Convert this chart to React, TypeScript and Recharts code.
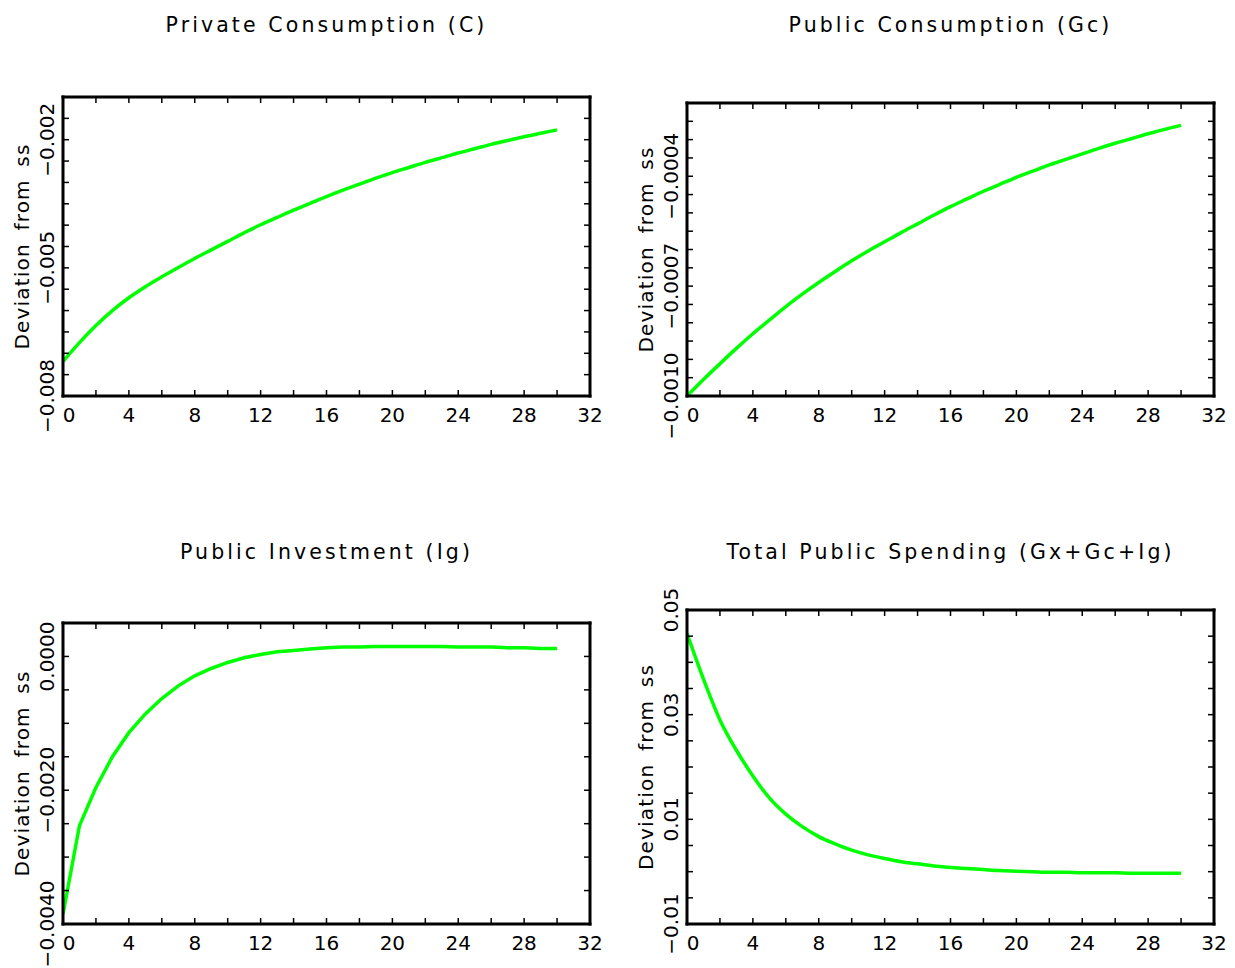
import { Line, LineChart, XAxis, YAxis } from "recharts";

// impulse responses, periods 0..30
const periods = [0, 1, 2, 3, 4, 5, 6, 7, 8, 9, 10, 11, 12, 13, 14, 15, 16, 17, 18, 19, 20, 21, 22, 23, 24, 25, 26, 27, 28, 29, 30];

const privateC = [
  -0.00719, -0.00675, -0.00635, -0.006, -0.0057, -0.00544, -0.00521, -0.00499, -0.00478, -0.00458,
  -0.00438, -0.00418, -0.00399, -0.00382, -0.00365, -0.00349, -0.00333, -0.00318, -0.00304, -0.0029,
  -0.00277, -0.00265, -0.00253, -0.00242, -0.00231, -0.00221, -0.00211, -0.00202, -0.00193, -0.00185, -0.00177,
];

const publicGc = [
  -0.001, -0.000955, -0.000912, -0.00087, -0.00083, -0.000793, -0.000756, -0.000722, -0.00069, -0.00066,
  -0.000631, -0.000604, -0.000579, -0.000554, -0.00053, -0.000506, -0.000483, -0.000462, -0.000441, -0.000422,
  -0.000403, -0.000386, -0.000369, -0.000354, -0.000339, -0.000324, -0.00031, -0.000297, -0.000284, -0.000272, -0.000261,
];

const publicIg = [
  -0.00385, -0.00253, -0.00196, -0.0015, -0.00114, -0.00086, -0.00063, -0.00044, -0.00029, -0.00018,
  -0.00009, -0.00002, 0.00003, 0.00007, 0.00009, 0.00011, 0.00013, 0.00014, 0.00014, 0.00015,
  0.00015, 0.00015, 0.00015, 0.00015, 0.00014, 0.00014, 0.00014, 0.00013, 0.00013, 0.00012, 0.00012,
];

const totalG = [
  0.0455, 0.0368, 0.029, 0.0232, 0.0183, 0.0141, 0.011, 0.0086, 0.0067, 0.0053,
  0.0041, 0.0032, 0.0025, 0.0019, 0.0015, 0.0011, 0.0008, 0.0006, 0.0004, 0.0002,
  0.0001, 0.0, -0.0001, -0.0001, -0.0002, -0.0002, -0.0002, -0.0003, -0.0003, -0.0003, -0.0003,
];

const xTicks = [0, 2, 4, 6, 8, 10, 12, 14, 16, 18, 20, 22, 24, 26, 28, 30, 32];
const xLabels = [0, 4, 8, 12, 16, 20, 24, 28, 32];

const cTicks = [-0.008, -0.0075, -0.007, -0.0065, -0.006, -0.0055, -0.005, -0.0045, -0.004, -0.0035, -0.003, -0.0025, -0.002, -0.0015, -0.001];
const cLabels = [-0.008, -0.005, -0.002];

const gcTicks = [-0.001, -0.00095, -0.0009, -0.00085, -0.0008, -0.00075, -0.0007, -0.00065, -0.0006, -0.00055, -0.0005, -0.00045, -0.0004, -0.00035, -0.0003, -0.00025, -0.0002];
const gcLabels = [-0.001, -0.0007, -0.0004];

const igTicks = [-0.004, -0.0035, -0.003, -0.0025, -0.002, -0.0015, -0.001, -0.0005, 0, 0.0005];
const igLabels = [-0.004, -0.002, 0];

const gTicks = [-0.01, -0.005, 0, 0.005, 0.01, 0.015, 0.02, 0.025, 0.03, 0.035, 0.04, 0.045, 0.05];
const gLabels = [-0.01, 0.01, 0.03, 0.05];

const FONT = '"DejaVu Sans", sans-serif';
const PLOT_W = 527;
const PAD_L = 70;
const PAD_T = 40;
const PAD_R = 12;
const PAD_B = 45;
const TICK_LEN = 6;
const FRAME = { stroke: "#000", strokeWidth: 3, strokeLinecap: "square" as const };

const isIn = (list: number[], v: number) => list.some((m) => Math.abs(m - v) < 1e-9);

function fmt(v: number, digits: number) {
  const s = Math.abs(v).toFixed(digits);
  return v < -1e-12 ? "\u2212" + s : s;
}

function BottomTick(props: any) {
  const { x, y, payload } = props;
  const v = payload.value;
  return (
    <g>
      <line x1={x} y1={y} x2={x} y2={y - TICK_LEN} stroke="#000" strokeWidth={1.5} />
      {isIn(xLabels, v) && (
        <text x={x + (v === 0 ? 6 : 0)} y={y + 19} dy="0.36em" textAnchor="middle" fontSize={20} fontFamily={FONT} fill="#000">
          {v}
        </text>
      )}
    </g>
  );
}

function TopTick(props: any) {
  const { x, y } = props;
  return <line x1={x} y1={y} x2={x} y2={y + TICK_LEN} stroke="#000" strokeWidth={1.5} />;
}

function RightTick(props: any) {
  const { x, y } = props;
  return <line x1={x} y1={y} x2={x - TICK_LEN} y2={y} stroke="#000" strokeWidth={1.5} />;
}

function LeftTick(props: any) {
  const { x, y, payload, labels, digits } = props;
  const v = payload.value;
  const lx = x - 16;
  return (
    <g>
      <line x1={x} y1={y} x2={x + TICK_LEN} y2={y} stroke="#000" strokeWidth={1.5} />
      {isIn(labels, v) && (
        <text
          x={lx}
          y={y}
          dy="0.36em"
          transform={`rotate(-90 ${lx} ${y})`}
          textAnchor="middle"
          fontSize={20}
          fontFamily={FONT}
          fill="#000"
        >
          {fmt(v, digits)}
        </text>
      )}
    </g>
  );
}

interface PanelProps {
  title: string;
  values: number[];
  ticks: number[];
  labels: number[];
  digits: number;
  left: number;
  top: number;
  height: number;
  titleTop: number;
  curve: "monotone" | "linear";
}

function Panel({ title, values, ticks, labels, digits, left, top, height, titleTop, curve }: PanelProps) {
  const data = periods.map((t, i) => ({ t, v: values[i] }));
  const domain: [number, number] = [ticks[0], ticks[ticks.length - 1]];
  const yMid = PAD_T + height / 2;
  return (
    <>
      <div
        style={{
          position: "absolute",
          left,
          top: titleTop,
          width: PLOT_W,
          textAlign: "center",
          fontFamily: FONT,
          fontSize: 20.5,
          lineHeight: "24px",
          letterSpacing: 3.1,
          color: "#000",
          whiteSpace: "nowrap",
        }}
      >
        {title}
      </div>
      <div style={{ position: "absolute", left: left - PAD_L, top: top - PAD_T }}>
        <LineChart
          width={PAD_L + PLOT_W + PAD_R}
          height={PAD_T + height + PAD_B}
          data={data}
          margin={{ top: PAD_T - 1, right: PAD_R - 1, bottom: 0, left: 0 }}
        >
          <XAxis
            dataKey="t"
            type="number"
            domain={[0, 32]}
            ticks={xTicks}
            allowDataOverflow
            height={PAD_B}
            tickSize={0}
            tickMargin={0}
            tickLine={false}
            axisLine={FRAME}
            tick={(p: any) => <BottomTick {...p} />}
            interval={0}
          />
          <XAxis
            xAxisId="top"
            orientation="top"
            dataKey="t"
            type="number"
            domain={[0, 32]}
            ticks={xTicks}
            allowDataOverflow
            height={1}
            tickSize={0}
            tickMargin={0}
            tickLine={false}
            axisLine={FRAME}
            tick={(p: any) => <TopTick {...p} />}
            interval={0}
          />
          <YAxis
            type="number"
            domain={domain}
            ticks={ticks}
            allowDataOverflow
            width={PAD_L}
            tickSize={0}
            tickMargin={0}
            tickLine={false}
            axisLine={FRAME}
            interval={0}
            tick={(p: any) => <LeftTick {...p} labels={labels} digits={digits} />}
          />
          <YAxis
            yAxisId="right"
            orientation="right"
            type="number"
            domain={domain}
            ticks={ticks}
            allowDataOverflow
            width={1}
            tickSize={0}
            tickMargin={0}
            tickLine={false}
            axisLine={FRAME}
            interval={0}
            tick={(p: any) => <RightTick {...p} />}
          />
          <Line
            xAxisId="top"
            yAxisId="right"
            type={curve}
            dataKey="v"
            stroke="none"
            strokeWidth={0}
            dot={false}
            activeDot={false}
            isAnimationActive={false}
          />
          <Line
            type={curve}
            dataKey="v"
            stroke="#00ff00"
            strokeWidth={3.5}
            dot={false}
            isAnimationActive={false}
          />
          <text
            x={PAD_L - 41.5}
            y={yMid}
            dy="0.36em"
            transform={`rotate(-90 ${PAD_L - 41.5} ${yMid})`}
            textAnchor="middle"
            fontSize={20}
            fontFamily={FONT}
            letterSpacing={1.2}
            wordSpacing={5}
            fill="#000"
          >
            Deviation from ss
          </text>
        </LineChart>
      </div>
    </>
  );
}

export default function App() {
  return (
    <div style={{ position: "absolute", left: 0, top: 0, width: 1235, height: 968, background: "#fff" }}>
      <Panel title="Private Consumption (C)" values={privateC} ticks={cTicks} labels={cLabels} digits={3} left={63} top={97} height={299} titleTop={13} curve="monotone" />
      <Panel title="Public Consumption (Gc)" values={publicGc} ticks={gcTicks} labels={gcLabels} digits={4} left={687} top={103} height={293} titleTop={13} curve="monotone" />
      <Panel title="Public Investment (Ig)" values={publicIg} ticks={igTicks} labels={igLabels} digits={4} left={63} top={623} height={301} titleTop={540} curve="linear" />
      <Panel title="Total Public Spending (Gx+Gc+Ig)" values={totalG} ticks={gTicks} labels={gLabels} digits={2} left={687} top={610} height={314} titleTop={540} curve="monotone" />
    </div>
  );
}
